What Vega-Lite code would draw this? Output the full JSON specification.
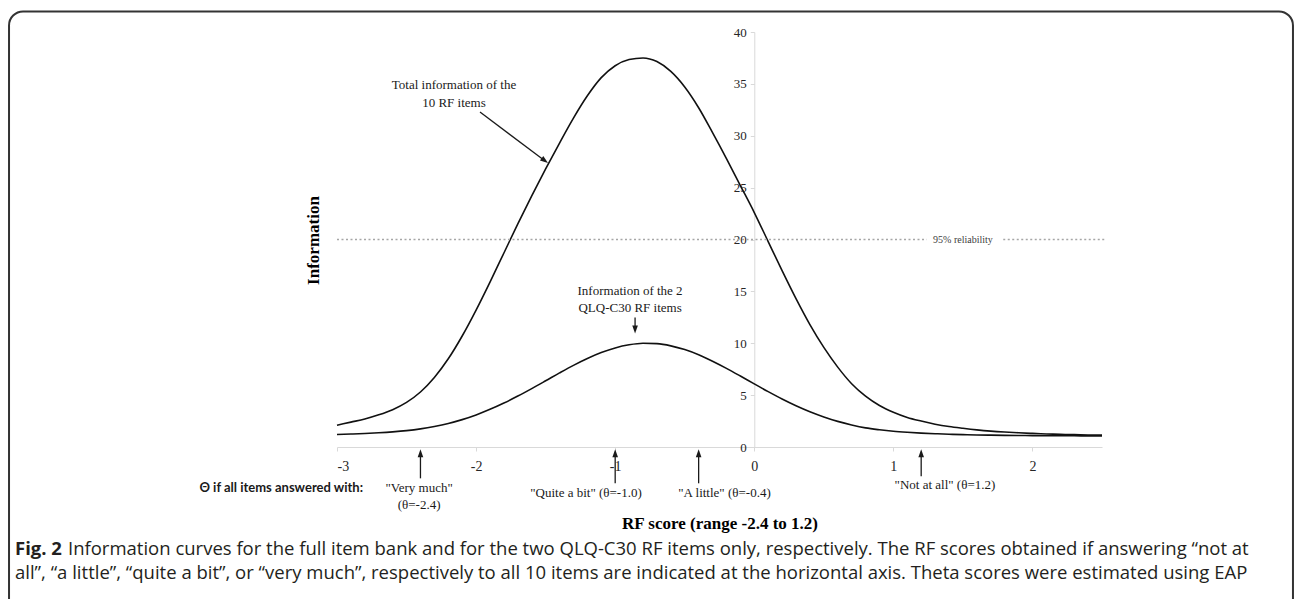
{
  "$schema": "https://vega.github.io/schema/vega-lite/v6.json",
  "width": 765,
  "height": 415,
  "autosize": {"type": "none"},
  "padding": {"left": 337, "top": 32, "right": 193, "bottom": 152},
  "background": "white",
  "config": {"view": {"stroke": null}, "font": "Liberation Serif"},
  "datasets": {
    "curves": [
      {"series": "total", "theta": -3.0, "info": 2.1}, {"series": "total", "theta": -2.9, "info": 2.4}, {"series": "total", "theta": -2.8, "info": 2.7}, {"series": "total", "theta": -2.7, "info": 3.1}, {"series": "total", "theta": -2.6, "info": 3.6}, {"series": "total", "theta": -2.5, "info": 4.3}, {"series": "total", "theta": -2.4, "info": 5.3}, {"series": "total", "theta": -2.3, "info": 6.7}, {"series": "total", "theta": -2.2, "info": 8.5}, {"series": "total", "theta": -2.1, "info": 10.7}, {"series": "total", "theta": -2.0, "info": 13.2}, {"series": "total", "theta": -1.9, "info": 15.9}, {"series": "total", "theta": -1.8, "info": 18.7}, {"series": "total", "theta": -1.7, "info": 21.5}, {"series": "total", "theta": -1.6, "info": 24.2}, {"series": "total", "theta": -1.5, "info": 26.8}, {"series": "total", "theta": -1.4, "info": 29.3}, {"series": "total", "theta": -1.3, "info": 31.7}, {"series": "total", "theta": -1.2, "info": 33.85}, {"series": "total", "theta": -1.1, "info": 35.6}, {"series": "total", "theta": -1.0, "info": 36.75}, {"series": "total", "theta": -0.9, "info": 37.35}, {"series": "total", "theta": -0.8, "info": 37.5}, {"series": "total", "theta": -0.7, "info": 37.15}, {"series": "total", "theta": -0.6, "info": 36.2}, {"series": "total", "theta": -0.5, "info": 34.7}, {"series": "total", "theta": -0.4, "info": 32.7}, {"series": "total", "theta": -0.3, "info": 30.3}, {"series": "total", "theta": -0.2, "info": 27.8}, {"series": "total", "theta": -0.1, "info": 25.2}, {"series": "total", "theta": 0.0, "info": 22.6}, {"series": "total", "theta": 0.1, "info": 19.8}, {"series": "total", "theta": 0.2, "info": 17.0}, {"series": "total", "theta": 0.3, "info": 14.3}, {"series": "total", "theta": 0.4, "info": 11.8}, {"series": "total", "theta": 0.5, "info": 9.6}, {"series": "total", "theta": 0.6, "info": 7.7}, {"series": "total", "theta": 0.7, "info": 6.1}, {"series": "total", "theta": 0.8, "info": 4.9}, {"series": "total", "theta": 0.9, "info": 4.0}, {"series": "total", "theta": 1.0, "info": 3.35}, {"series": "total", "theta": 1.1, "info": 2.85}, {"series": "total", "theta": 1.2, "info": 2.5}, {"series": "total", "theta": 1.3, "info": 2.2}, {"series": "total", "theta": 1.4, "info": 1.97}, {"series": "total", "theta": 1.5, "info": 1.8}, {"series": "total", "theta": 1.6, "info": 1.65}, {"series": "total", "theta": 1.7, "info": 1.53}, {"series": "total", "theta": 1.8, "info": 1.44}, {"series": "total", "theta": 1.9, "info": 1.37}, {"series": "total", "theta": 2.0, "info": 1.31}, {"series": "total", "theta": 2.1, "info": 1.26}, {"series": "total", "theta": 2.2, "info": 1.22}, {"series": "total", "theta": 2.3, "info": 1.19}, {"series": "total", "theta": 2.4, "info": 1.16}, {"series": "total", "theta": 2.5, "info": 1.14},
      {"series": "qlq", "theta": -3.0, "info": 1.2}, {"series": "qlq", "theta": -2.9, "info": 1.25}, {"series": "qlq", "theta": -2.8, "info": 1.3}, {"series": "qlq", "theta": -2.7, "info": 1.37}, {"series": "qlq", "theta": -2.6, "info": 1.46}, {"series": "qlq", "theta": -2.5, "info": 1.58}, {"series": "qlq", "theta": -2.4, "info": 1.75}, {"series": "qlq", "theta": -2.3, "info": 1.98}, {"series": "qlq", "theta": -2.2, "info": 2.27}, {"series": "qlq", "theta": -2.1, "info": 2.64}, {"series": "qlq", "theta": -2.0, "info": 3.09}, {"series": "qlq", "theta": -1.9, "info": 3.63}, {"series": "qlq", "theta": -1.8, "info": 4.24}, {"series": "qlq", "theta": -1.7, "info": 4.91}, {"series": "qlq", "theta": -1.6, "info": 5.63}, {"series": "qlq", "theta": -1.5, "info": 6.38}, {"series": "qlq", "theta": -1.4, "info": 7.14}, {"series": "qlq", "theta": -1.3, "info": 7.87}, {"series": "qlq", "theta": -1.2, "info": 8.53}, {"series": "qlq", "theta": -1.1, "info": 9.1}, {"series": "qlq", "theta": -1.0, "info": 9.55}, {"series": "qlq", "theta": -0.9, "info": 9.85}, {"series": "qlq", "theta": -0.8, "info": 10.0}, {"series": "qlq", "theta": -0.7, "info": 9.96}, {"series": "qlq", "theta": -0.6, "info": 9.75}, {"series": "qlq", "theta": -0.5, "info": 9.39}, {"series": "qlq", "theta": -0.4, "info": 8.89}, {"series": "qlq", "theta": -0.3, "info": 8.27}, {"series": "qlq", "theta": -0.2, "info": 7.58}, {"series": "qlq", "theta": -0.1, "info": 6.84}, {"series": "qlq", "theta": 0.0, "info": 6.08}, {"series": "qlq", "theta": 0.1, "info": 5.34}, {"series": "qlq", "theta": 0.2, "info": 4.63}, {"series": "qlq", "theta": 0.3, "info": 3.98}, {"series": "qlq", "theta": 0.4, "info": 3.4}, {"series": "qlq", "theta": 0.5, "info": 2.9}, {"series": "qlq", "theta": 0.6, "info": 2.47}, {"series": "qlq", "theta": 0.7, "info": 2.12}, {"series": "qlq", "theta": 0.8, "info": 1.84}, {"series": "qlq", "theta": 0.9, "info": 1.66}, {"series": "qlq", "theta": 1.0, "info": 1.52}, {"series": "qlq", "theta": 1.1, "info": 1.42}, {"series": "qlq", "theta": 1.2, "info": 1.34}, {"series": "qlq", "theta": 1.3, "info": 1.28}, {"series": "qlq", "theta": 1.4, "info": 1.23}, {"series": "qlq", "theta": 1.5, "info": 1.19}, {"series": "qlq", "theta": 1.6, "info": 1.16}, {"series": "qlq", "theta": 1.7, "info": 1.14}, {"series": "qlq", "theta": 1.8, "info": 1.12}, {"series": "qlq", "theta": 1.9, "info": 1.11}, {"series": "qlq", "theta": 2.0, "info": 1.1}, {"series": "qlq", "theta": 2.1, "info": 1.09}, {"series": "qlq", "theta": 2.2, "info": 1.08}, {"series": "qlq", "theta": 2.3, "info": 1.08}, {"series": "qlq", "theta": 2.4, "info": 1.07}, {"series": "qlq", "theta": 2.5, "info": 1.07}
    ],
    "border": [{"theta": -5.358, "theta2": 3.873, "info": 41.98, "info2": -16}],
    "reliability": [{"theta": -3, "theta2": 1.24, "info": 20}, {"theta": 1.79, "theta2": 2.53, "info": 20}],
    "reliabilityLabel": [{"label": "95% reliability", "theta": 1.5, "info": 20}],
    "notes": [
      {"label": "Total information of the", "theta": -2.159, "info": 34.88},
      {"label": "10 RF items", "theta": -2.159, "info": 33.15},
      {"label": "Information of the 2", "theta": -0.893, "info": 15.02},
      {"label": "QLQ-C30 RF items", "theta": -0.893, "info": 13.38},
      {"label": "\"Very much\"", "theta": -2.41, "info": -3.98},
      {"label": "(θ=-2.4)", "theta": -2.41, "info": -5.62},
      {"label": "\"Quite a bit\" (θ=-1.0)", "theta": -1.21, "info": -4.47},
      {"label": "\"A little\" (θ=-0.4)", "theta": -0.214, "info": -4.47},
      {"label": "\"Not at all\" (θ=1.2)", "theta": 1.371, "info": -3.69}
    ],
    "thetaLabel": [{"label": "Θ if all items answered with:", "theta": -2.813, "info": -3.98}],
    "arrowLines": [
      {"theta": -1.972, "info": 32.28, "theta2": -1.506, "info2": 27.6},
      {"theta": -0.857, "info": 12.49, "theta2": -0.857, "info2": 11.33},
      {"theta": -2.4, "info": -0.61, "theta2": -2.4, "info2": -3.02},
      {"theta": -1.0, "info": -0.61, "theta2": -1.0, "info2": -3.5},
      {"theta": -0.4, "info": -0.61, "theta2": -0.4, "info2": -3.5},
      {"theta": 1.2, "info": -0.61, "theta2": 1.2, "info2": -2.83}
    ],
    "headsUp": [{"theta": -2.4, "info": -0.61}, {"theta": -1.0, "info": -0.61}, {"theta": -0.4, "info": -0.61}, {"theta": 1.2, "info": -0.61}],
    "headsDown": [{"theta": -0.857, "info": 11.33}],
    "headsDiag": [{"theta": -1.506, "info": 27.6}],
    "captionBold": [{"label": "Fig. 2", "theta": -5.315, "info": -9.87}],
    "caption": [
      {"label": "Information curves for the full item bank and for the two QLQ-C30 RF items only, respectively. The RF scores obtained if answering “not at", "theta": -4.934, "info": -9.87},
      {"label": "all”, “a little”, “quite a bit”, or “very much”, respectively to all 10 items are indicated at the horizontal axis. Theta scores were estimated using EAP", "theta": -5.315, "info": -12.18}
    ]
  },
  "encoding": {
    "x": {
      "field": "theta", "type": "quantitative",
      "scale": {"domain": [-3, 2.5], "nice": false, "zero": false},
      "axis": {
        "title": "RF score (range -2.4 to 1.2)", "values": [-3, -2, -1, 0, 1, 2], "labelExpr": "'' + datum.value",
        "grid": false, "domainColor": "#d9d9d9", "tickColor": "#d9d9d9", "tickSize": 4,
        "labelFont": "Liberation Serif", "labelFontSize": 14, "labelColor": "#262626", "labelPadding": 8,
        "titleFont": "Liberation Serif", "titleFontSize": 17, "titleFontWeight": "bold", "titleColor": "#000000",
        "titleY": 76, "titleBaseline": "middle"
      }
    },
    "y": {
      "field": "info", "type": "quantitative",
      "scale": {"domain": [0, 40], "nice": false},
      "axis": {
        "title": "Information", "values": [0, 5, 10, 15, 20, 25, 30, 35, 40],
        "grid": false, "offset": -417.3, "domainColor": "#d9d9d9", "tickColor": "#d9d9d9", "tickSize": 4,
        "labelFont": "Liberation Serif", "labelFontSize": 13, "labelColor": "#262626", "labelPadding": 4,
        "titleFont": "Liberation Serif", "titleFontSize": 17, "titleFontWeight": "bold", "titleColor": "#000000",
        "titleX": -441, "titleY": 208, "titleBaseline": "middle", "titleAngle": 270
      }
    }
  },
  "layer": [
    {
      "data": {"name": "border"},
      "mark": {"type": "rect", "filled": false, "color": "#333333", "strokeWidth": 2, "cornerRadius": 14},
      "encoding": {"x2": {"field": "theta2"}, "y2": {"field": "info2"}}
    },
    {
      "data": {"name": "curves"},
      "mark": {"type": "line", "color": "#111111", "strokeWidth": 1.6, "interpolate": "monotone"},
      "encoding": {"detail": {"field": "series"}}
    },
    {
      "data": {"name": "reliability"},
      "mark": {"type": "rule", "color": "#a6a6a6", "strokeWidth": 1.5, "strokeDash": [2, 2.5]},
      "encoding": {"x2": {"field": "theta2"}}
    },
    {
      "data": {"name": "reliabilityLabel"},
      "mark": {"type": "text", "font": "Liberation Serif", "fontSize": 10, "color": "#404040", "baseline": "middle"},
      "encoding": {"text": {"field": "label"}}
    },
    {
      "data": {"name": "notes"},
      "mark": {"type": "text", "font": "Liberation Serif", "fontSize": 13, "color": "#1a1a1a", "baseline": "middle", "align": "center"},
      "encoding": {"text": {"field": "label"}}
    },
    {
      "data": {"name": "thetaLabel"},
      "mark": {"type": "text", "font": "Lato", "fontWeight": "bold", "fontSize": 13, "color": "#1a1a1a", "baseline": "middle", "align": "right"},
      "encoding": {"text": {"field": "label"}}
    },
    {
      "data": {"name": "arrowLines"},
      "mark": {"type": "rule", "color": "#1a1a1a", "strokeWidth": 1.3},
      "encoding": {"x2": {"field": "theta2"}, "y2": {"field": "info2"}}
    },
    {
      "data": {"name": "headsUp"},
      "mark": {"type": "point", "shape": "M1,0L-1,-0.7L-1,0.7Z", "size": 64, "filled": true, "opacity": 1, "color": "#1a1a1a", "strokeWidth": 0, "angle": -90}
    },
    {
      "data": {"name": "headsDown"},
      "mark": {"type": "point", "shape": "M1,0L-1,-0.7L-1,0.7Z", "size": 64, "filled": true, "opacity": 1, "color": "#1a1a1a", "strokeWidth": 0, "angle": 90}
    },
    {
      "data": {"name": "headsDiag"},
      "mark": {"type": "point", "shape": "M1,0L-1,-0.7L-1,0.7Z", "size": 64, "filled": true, "opacity": 1, "color": "#1a1a1a", "strokeWidth": 0, "angle": 36.9}
    },
    {
      "data": {"name": "captionBold"},
      "mark": {"type": "text", "font": "Open Sans", "fontWeight": "bold", "fontSize": 18.5, "color": "#231f20", "baseline": "middle", "align": "left"},
      "encoding": {"text": {"field": "label"}}
    },
    {
      "data": {"name": "caption"},
      "mark": {"type": "text", "font": "Open Sans", "fontSize": 18.5, "color": "#231f20", "baseline": "middle", "align": "left"},
      "encoding": {"text": {"field": "label"}}
    }
  ]
}
